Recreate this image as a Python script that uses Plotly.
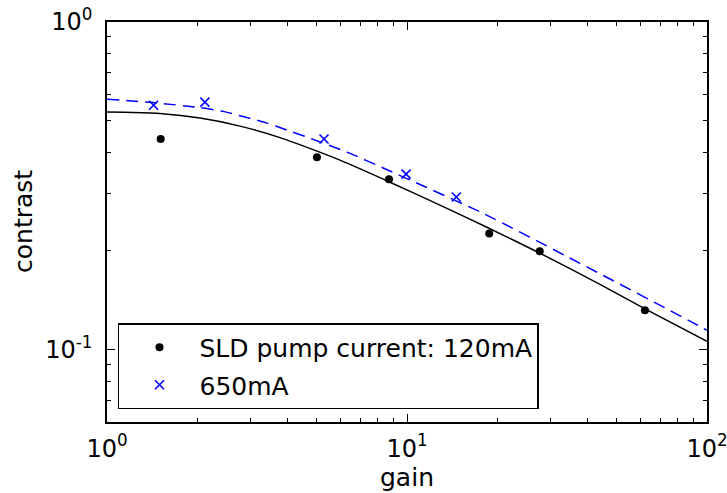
import plotly.graph_objects as go

# measured data
gain_120 = [1.51, 5.01, 8.71, 18.8, 27.7, 62.1]
contrast_120 = [0.439, 0.386, 0.331, 0.226, 0.1995, 0.1316]
gain_650 = [1.43, 2.12, 5.29, 9.93, 14.6]
contrast_650 = [0.557, 0.569, 0.439, 0.343, 0.292]

# fit curves
fit_gain_120 = [1.0, 1.221, 1.502, 2.042, 2.776, 3.773, 5.012, 5.979, 8.777, 12.88, 18.91, 27.76, 43.99, 62.6, 100.0]
fit_contrast_120 = [0.5306, 0.5291, 0.5252, 0.5087, 0.4808, 0.4434, 0.4032, 0.3784, 0.3241, 0.2757, 0.2336, 0.1966, 0.1580, 0.1325, 0.1058]
fit_gain_650 = [1.0, 1.423, 2.042, 2.455, 2.884, 3.415, 3.981, 4.642, 6.31, 8.511, 11.57, 17.92, 37.73, 93.33, 100.0]
fit_contrast_650 = [0.5813, 0.5673, 0.5477, 0.5324, 0.5124, 0.4911, 0.4675, 0.4450, 0.4004, 0.3551, 0.3129, 0.2605, 0.1832, 0.1184, 0.1143]

x_tickvals = [1, 10, 100]
x_ticktext = ["10<sup>0</sup>", "10<sup>1</sup>", "10<sup>2</sup>"]
y_tickvals = [0.1, 1]
y_ticktext = ["10<sup>-1</sup>", "10<sup>0</sup>"]
x_minor = [2, 3, 4, 5, 6, 7, 8, 9, 20, 30, 40, 50, 60, 70, 80, 90]
y_minor = [0.07, 0.08, 0.09, 0.2, 0.3, 0.4, 0.5, 0.6, 0.7, 0.8, 0.9]

FONT = "DejaVu Sans"

fig = go.Figure()
fig.add_trace(go.Scatter(x=fit_gain_120, y=fit_contrast_120, mode="lines",
                         line=dict(color="black", width=1.5, shape="spline", smoothing=0.6),
                         showlegend=False, hoverinfo="skip"))
fig.add_trace(go.Scatter(x=fit_gain_650, y=fit_contrast_650, mode="lines",
                         line=dict(color="#0000ff", width=1.5, dash="12px,7px", shape="spline", smoothing=0.6),
                         showlegend=False, hoverinfo="skip"))
fig.add_trace(go.Scatter(x=gain_120, y=contrast_120, mode="markers",
                         name="SLD pump current: 120mA", legendgroup="a",
                         marker=dict(color="black", size=8, symbol="circle")))
fig.add_trace(go.Scatter(x=gain_650, y=contrast_650, mode="markers",
                         name="650mA", legendgroup="b",
                         marker=dict(color="#0000ff", size=9, symbol="x-thin",
                                     line=dict(color="#0000ff", width=1.6))))

axis_common = dict(
    type="log", showgrid=False, zeroline=False, automargin=False,
    showline=True, linecolor="black", linewidth=1.5, mirror="allticks",
    ticks="inside", ticklen=8, tickwidth=1, tickcolor="black",
    tickfont=dict(family=FONT, size=24, color="black"),
    ticklabeloverflow="allow",
)

fig.update_layout(
    width=727, height=493,
    margin=dict(l=107, r=20, t=22, b=71),
    paper_bgcolor="white", plot_bgcolor="white",
    font=dict(family=FONT, size=25, color="black"),
    xaxis=dict(axis_common, range=[0, 2], tickmode="array", tickvals=x_tickvals, ticktext=x_ticktext,
               ticklabelstandoff=4,
               minor=dict(tickmode="array", tickvals=x_minor, ticks="inside", ticklen=4,
                          tickwidth=1, tickcolor="black", showgrid=False)),
    yaxis=dict(axis_common, range=[-1.2218, 0], tickmode="array", tickvals=y_tickvals, ticktext=y_ticktext,
               ticklabelstandoff=8,
               minor=dict(tickmode="array", tickvals=y_minor, ticks="inside", ticklen=4,
                          tickwidth=1, tickcolor="black", showgrid=False)),
    legend=dict(x=0.0183, y=0.0325, xanchor="left", yanchor="bottom",
                bgcolor="white", bordercolor="black", borderwidth=1.5,
                font=dict(family=FONT, size=25, color="black"),
                tracegroupgap=2, itemwidth=70),
    annotations=[
        dict(text="gain", xref="paper", yref="paper", x=0.5, y=-0.1375,
             showarrow=False, xanchor="center", yanchor="middle",
             font=dict(family=FONT, size=25, color="black")),
        dict(text="contrast", xref="paper", yref="paper", x=-0.14, y=0.5025,
             showarrow=False, xanchor="center", yanchor="middle", textangle=-90,
             font=dict(family=FONT, size=25, color="black")),
    ],
)

fig.write_html("out.html", config={"displayModeBar": False},
               post_script="document.body.style.margin='0';document.body.style.overflow='hidden';")
